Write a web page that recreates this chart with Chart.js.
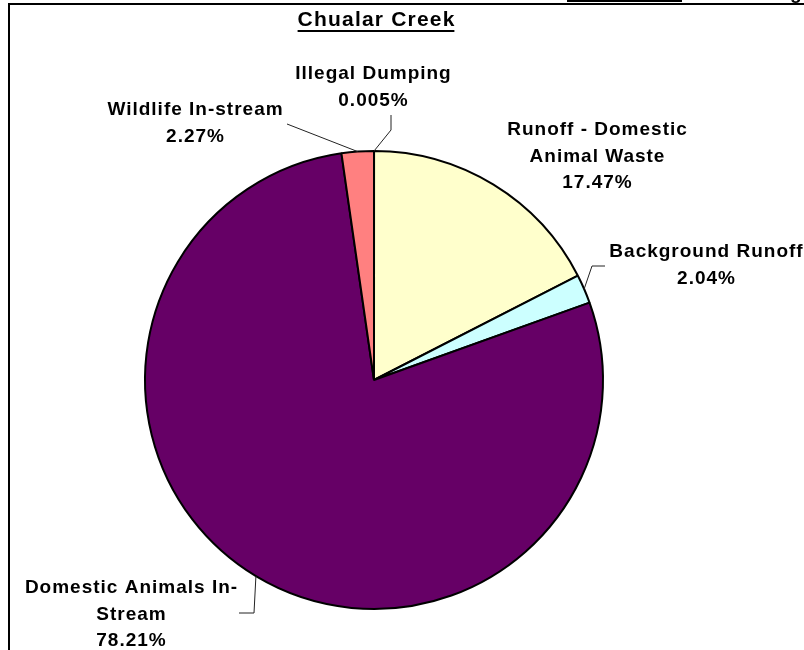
<!DOCTYPE html>
<html>
<head>
<meta charset="utf-8">
<script src="https://cdn.jsdelivr.net/npm/chart.js@4/dist/chart.umd.min.js"></script>
<style>
html,body{margin:0;padding:0;background:#fff;}
canvas{display:block;}
</style>
</head>
<body>
<canvas id="c" width="804" height="650"></canvas>
<script>
// ---- data ----
const categories = ['Illegal Dumping', 'Runoff - Domestic Animal Waste', 'Background Runoff', 'Domestic Animals In-Stream', 'Wildlife In-stream'];
const values = [0.005, 17.47, 2.04, 78.21, 2.27];
const percentLabels = ['0.005%', '17.47%', '2.04%', '78.21%', '2.27%'];
const nameLines = [['Illegal Dumping'], ['Runoff - Domestic', 'Animal Waste'], ['Background Runoff'], ['Domestic Animals In-', 'Stream'], ['Wildlife In-stream']];
const sliceColors = ['#993366', '#FFFFCC', '#CCFFFF', '#660066', '#FF8080'];
const chartTitle = 'Chualar Creek';

// ---- annotation layout (label centres and leader bends) ----
const labelPos = [
  {x: 373, y: 74, leader: [[391, 130], [391, 115]]},
  {x: 597, y: 130, leader: null},
  {x: 706, y: 252, leader: [[592, 266], [605, 266]]},
  {x: 131, y: 588, leader: [[254, 613], [239, 613]]},
  {x: 195, y: 110, leader: [[287, 124]]}
];
const LINE_H = 26.5;
const FONT = 'bold 19px "Liberation Sans", Arial, sans-serif';

function drawSpaced(ctx, text, cx, cy, spacing) {
  ctx.letterSpacing = spacing + 'px';
  const w = ctx.measureText(text).width - spacing;
  ctx.textAlign = 'left';
  ctx.fillText(text, cx - w / 2, cy);
  ctx.letterSpacing = '0px';
  return w;
}

const annotations = {
  id: 'annotations',
  afterDatasetsDraw(chart) {
    const ctx = chart.ctx;
    const arcs = chart.getDatasetMeta(0).data;
    ctx.save();
    // leader lines
    ctx.strokeStyle = '#222';
    ctx.lineWidth = 1;
    arcs.forEach((arc, i) => {
      const lp = labelPos[i];
      if (!lp.leader) return;
      const mid = (arc.startAngle + arc.endAngle) / 2;
      const ex = arc.x + Math.cos(mid) * arc.outerRadius;
      const ey = arc.y + Math.sin(mid) * arc.outerRadius;
      ctx.beginPath();
      ctx.moveTo(ex, ey);
      lp.leader.forEach(p => ctx.lineTo(p[0], p[1]));
      ctx.stroke();
    });
    // labels
    ctx.fillStyle = '#000';
    ctx.font = FONT;
    ctx.textBaseline = 'middle';
    arcs.forEach((arc, i) => {
      const lp = labelPos[i];
      const lines = nameLines[i].concat([percentLabels[i]]);
      lines.forEach((t, k) => drawSpaced(ctx, t, lp.x, lp.y + k * LINE_H, 1));
    });
    // title
    ctx.font = 'bold 21px "Liberation Sans", Arial, sans-serif';
    const tw = drawSpaced(ctx, chartTitle, 376, 20, 1.2);
    ctx.fillRect(376 - tw / 2, 30, tw, 2);
    // frame
    ctx.fillRect(8, 3, 796, 2);
    ctx.fillRect(8, 3, 2, 647);
    // cut-off fragment above the frame
    ctx.fillRect(567, 0, 115, 2);
    ctx.font = FONT;
    ctx.textBaseline = 'alphabetic';
    ctx.textAlign = 'left';
    ctx.fillText('g', 790, -1);
    ctx.restore();
  }
};

new Chart(document.getElementById('c'), {
  type: 'pie',
  data: {
    labels: categories,
    datasets: [{
      data: values,
      backgroundColor: sliceColors,
      borderColor: '#000',
      borderWidth: 2
    }]
  },
  options: {
    responsive: false,
    animation: false,
    devicePixelRatio: 1,
    layout: {padding: {left: 144, top: 150, right: 200, bottom: 40}},
    plugins: {
      legend: {display: false},
      title: {display: false},
      tooltip: {enabled: false}
    }
  },
  plugins: [annotations]
});
</script>
</body>
</html>
